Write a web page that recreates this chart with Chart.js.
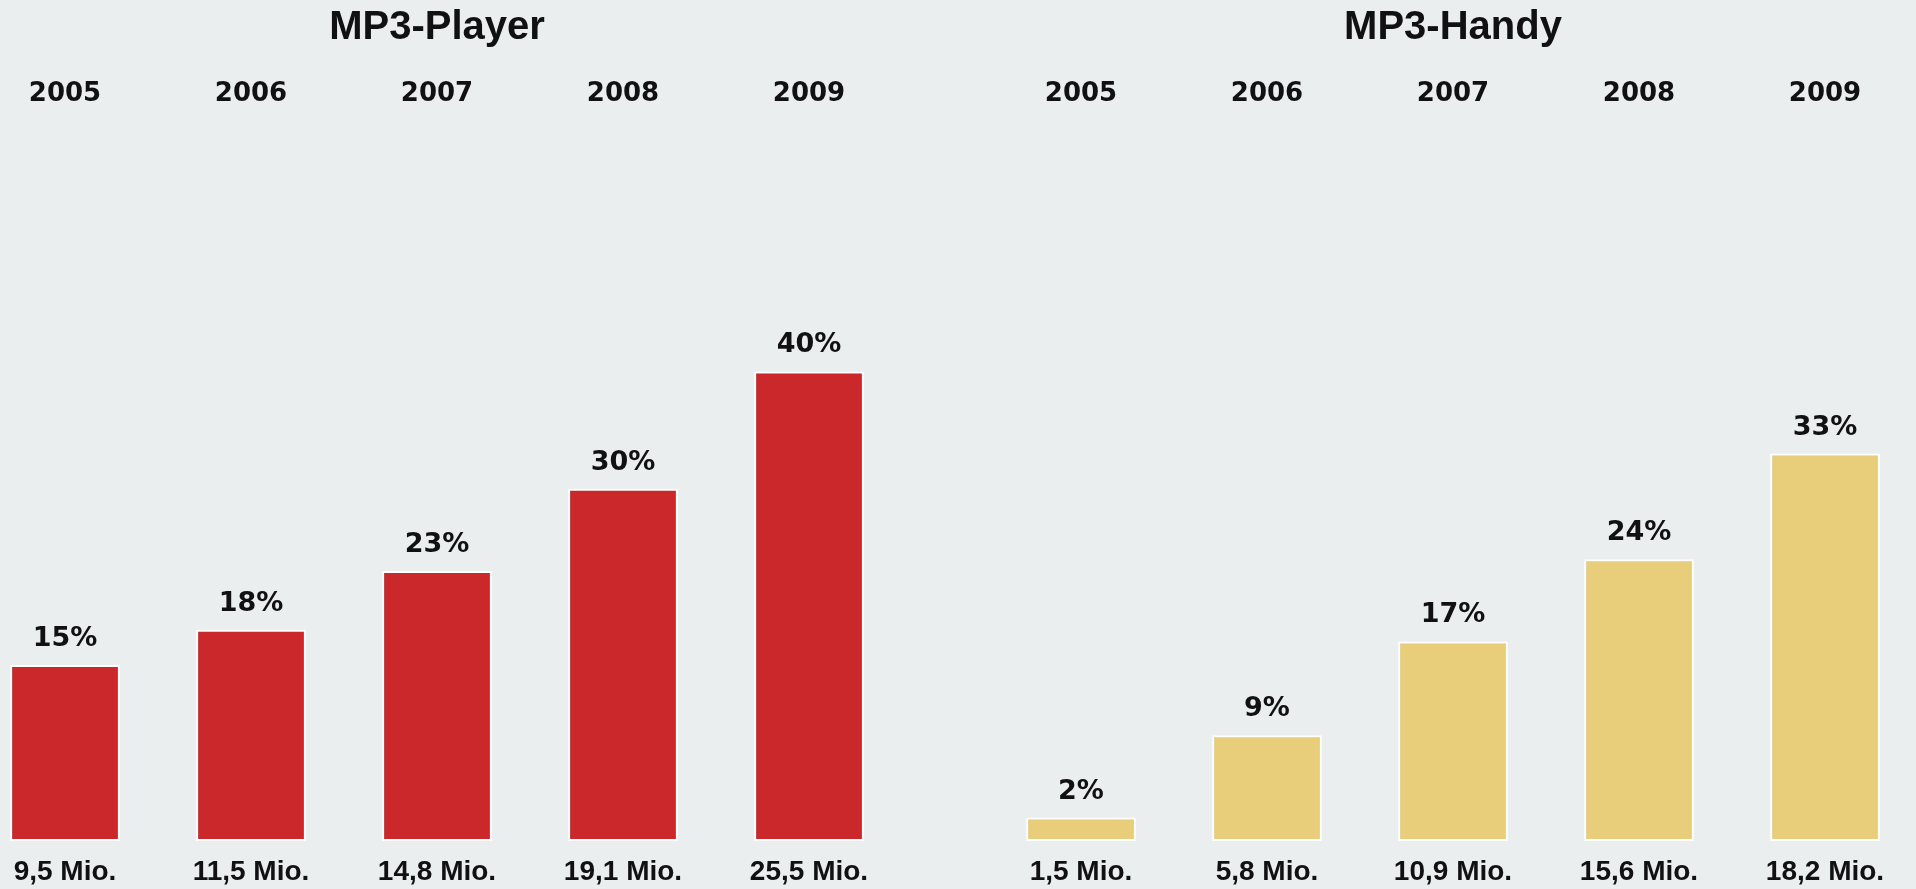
<!DOCTYPE html>
<html>
<head>
<meta charset="utf-8">
<script src="https://cdn.jsdelivr.net/npm/chart.js@4.4.0/dist/chart.umd.min.js"></script>
<style>
  html, body { margin: 0; padding: 0; overflow: hidden; background: #ebeeef; }
  body { width: 1916px; height: 889px; position: relative; }
  .box { position: absolute; top: 0; width: 930px; height: 904px; }
  #boxPlayer { left: -28px; }
  #boxHandy { left: 988px; }
</style>
</head>
<body>
<div class="box" id="boxPlayer"><canvas id="chartPlayer"></canvas></div>
<div class="box" id="boxHandy"><canvas id="chartHandy"></canvas></div>
<script>
// Daten
var jahre = ['2005', '2006', '2007', '2008', '2009'];

var playerProzent = [15, 18, 23, 30, 40];
var playerMio = ['9,5 Mio.', '11,5 Mio.', '14,8 Mio.', '19,1 Mio.', '25,5 Mio.'];

var handyProzent = [2, 9, 17, 24, 33];
var handyMio = ['1,5 Mio.', '5,8 Mio.', '10,9 Mio.', '15,6 Mio.', '18,2 Mio.'];

var textFarbe = '#111111';

// Prozentwerte ueber die Balken schreiben
var prozentLabels = {
    id: 'prozentLabels',
    afterDatasetsDraw: function(chart) {
        var ctx = chart.ctx;
        var meta = chart.getDatasetMeta(0);
        var werte = chart.data.datasets[0].data;
        ctx.save();
        ctx.font = 'bold 27px "DejaVu Sans"';
        ctx.fillStyle = textFarbe;
        ctx.textAlign = 'center';
        ctx.textBaseline = 'alphabetic';
        meta.data.forEach(function(bar, i) {
            ctx.fillText(werte[i] + '%', bar.x, bar.y - 19);
        });
        ctx.restore();
    }
};

function makeChart(id, titel, werte, mio, farbe) {
    var ctx = document.getElementById(id).getContext('2d');
    return new Chart(ctx, {
        type: 'bar',
        data: {
            labels: jahre,
            datasets: [{
                label: titel,
                data: werte,
                backgroundColor: farbe,
                borderColor: '#ffffff',
                borderWidth: 2,
                borderSkipped: false,
                categoryPercentage: 1,
                barPercentage: 0.59
            }]
        },
        options: {
            responsive: true,
            maintainAspectRatio: false,
            animation: false,
            layout: { padding: 0 },
            plugins: {
                legend: { display: false },
                tooltip: { enabled: false },
                title: {
                    display: true,
                    text: titel,
                    color: textFarbe,
                    font: { family: '"Liberation Sans", Arial, sans-serif', size: 40, weight: 'bold' },
                    padding: { top: 4, bottom: 23.1 }
                }
            },
            scales: {
                x: {
                    position: 'top',
                    offset: true,
                    grid: { display: false, drawTicks: false },
                    border: { display: false },
                    ticks: {
                        color: textFarbe,
                        padding: 3.4,
                        autoSkip: false,
                        maxRotation: 0,
                        font: { family: '"DejaVu Sans", Verdana, sans-serif', size: 26, weight: 'bold' }
                    }
                },
                x2: {
                    type: 'category',
                    position: 'bottom',
                    labels: mio,
                    offset: true,
                    grid: { display: false, drawTicks: false },
                    border: { display: false },
                    ticks: {
                        color: textFarbe,
                        padding: 14.7,
                        autoSkip: false,
                        maxRotation: 0,
                        font: { family: '"Liberation Sans", Arial, sans-serif', size: 28, weight: 'bold' }
                    }
                },
                y: {
                    display: false,
                    min: 0,
                    max: 62
                }
            }
        },
        plugins: [prozentLabels]
    });
}

makeChart('chartPlayer', 'MP3-Player', playerProzent, playerMio, '#ca282a');
makeChart('chartHandy', 'MP3-Handy', handyProzent, handyMio, '#e8ce7b');
</script>
</body>
</html>
